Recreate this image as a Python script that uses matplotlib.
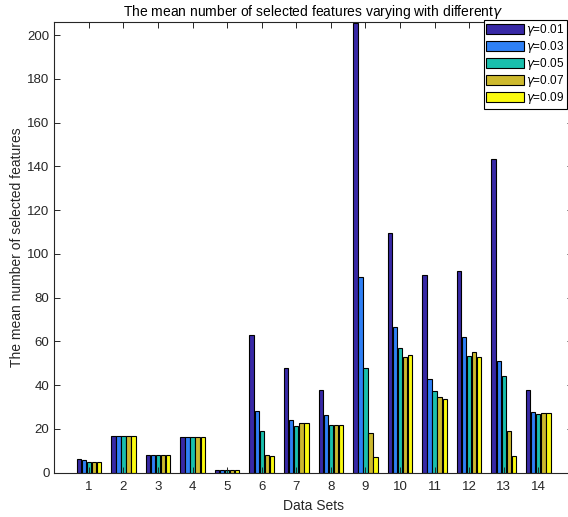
import matplotlib
matplotlib.use("Agg")
import matplotlib.pyplot as plt
import numpy as np

plt.rcParams['font.family'] = ['Liberation Sans', 'DejaVu Sans']

groups = list(range(1, 15))
gamma_labels = ['0.01', '0.03', '0.05', '0.07', '0.09']
g001 = [6.2, 16.6, 7.9, 16.4, 1.2, 63.0, 47.8, 37.6, 205.3, 109.4, 90.2, 92.2, 143.4, 37.9]
g003 = [5.9, 16.6, 7.9, 16.1, 1.2, 28.3, 23.9, 26.2, 89.4, 66.4, 43.0, 62.1, 51.0, 27.7]
g005 = [5.0, 16.6, 7.9, 16.1, 1.2, 19.2, 21.3, 21.8, 47.8, 56.9, 37.4, 53.4, 44.4, 26.9]
g007 = [5.0, 16.6, 7.9, 16.1, 1.2, 8.2, 22.5, 21.8, 18.2, 53.1, 34.7, 55.3, 19.2, 27.4]
g009 = [5.0, 16.6, 7.9, 16.1, 1.2, 7.5, 22.6, 21.8, 7.4, 53.9, 33.8, 52.8, 7.8, 27.4]
series = [g001, g003, g005, g007, g009]
colors = ['#3829a6', '#2f80f5', '#19bfad', '#cdb92e', '#fafa0f']

fig = plt.figure(figsize=(5.68, 5.17), dpi=100)
ax = fig.add_axes([54.3 / 568, 1 - 472.7 / 517, (572.9 - 54.3) / 568, (472.7 - 21.7) / 517])

x = np.array(groups, dtype=float)
step = 0.146
width = 0.125
for i, (vals, c, lab) in enumerate(zip(series, colors, gamma_labels)):
    ax.bar(x + (i - 2) * step, vals, width=width, color=c, edgecolor='black',
           linewidth=0.8, label=r'$\gamma$=' + lab)

ax.set_xlim(0, 15)
ax.set_ylim(0, 206.1)
ax.set_xticks(groups)
ax.set_yticks(np.arange(0, 201, 20))
ax.tick_params(direction='in', top=True, right=True, length=4, labelsize=9.5,
               colors='#262626', width=0.7)
ax.tick_params(axis='x', pad=6)
for s in ax.spines.values():
    s.set_color('#262626')
    s.set_linewidth(0.8)

ax.set_xlabel('Data Sets', fontsize=10, color='#262626', labelpad=4)
ax.set_ylabel('The mean number of selected features', fontsize=10, color='#262626', labelpad=2)
ax.set_title(r'The mean number of selected features varying with different$\gamma$',
             fontsize=10, color='black', pad=4)

leg = ax.legend(loc='upper right', bbox_to_anchor=(567 / 568, 1 - 20 / 517),
                bbox_transform=fig.transFigure, fontsize=8.5, frameon=True,
                fancybox=False, edgecolor='black', framealpha=1,
                handlelength=3.2, handleheight=0.9, handletextpad=0.2,
                labelspacing=0.08, borderpad=0.2, borderaxespad=0)
leg.get_frame().set_linewidth(0.8)

fig.savefig('out.png', dpi=100)
